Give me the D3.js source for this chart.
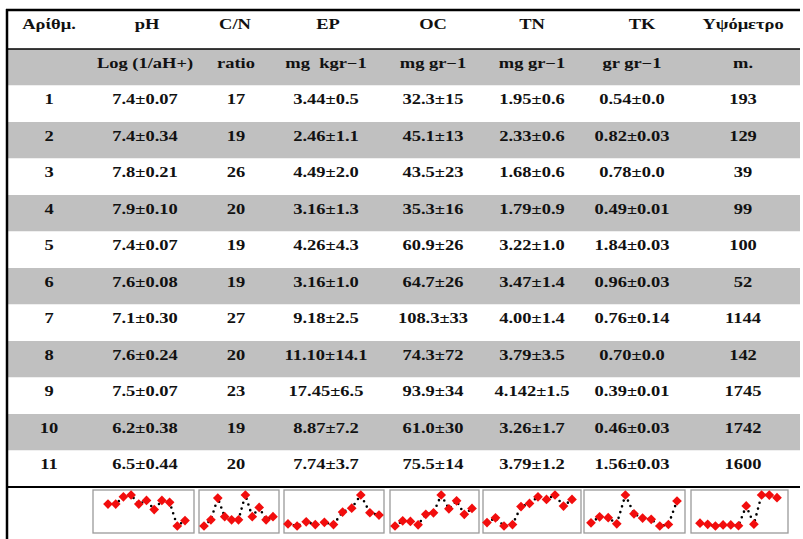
<!DOCTYPE html>
<html>
<head>
<meta charset="utf-8">
<script src="https://cdn.jsdelivr.net/npm/d3@7"></script>
<style>
  html, body { margin: 0; padding: 0; background: #fff; }
  svg text { font-family: "Liberation Serif", "Times New Roman", serif; font-weight: bold; font-size: 14px; fill: #111; white-space: pre; }
</style>
</head>
<body>
<svg id="chart" width="803" height="539"></svg>
<script>
// Soil properties per sampling site (mean ± sd) and altitude
const headers = ["Αρίθμ.", "pH", "C/N", "EP", "OC", "TN", "TK", "Υψόμετρο"];
const units = ["", "Log (1/aH+)", "ratio", "mg  kgr−1", "mg gr−1", "mg gr−1", "gr gr−1", "m."];
const sites = ["1", "2", "3", "4", "5", "6", "7", "8", "9", "10", "11"];

const phMean = ["7.4", "7.4", "7.8", "7.9", "7.4", "7.6", "7.1", "7.6", "7.5", "6.2", "6.5"];
const phSd   = ["0.07", "0.34", "0.21", "0.10", "0.07", "0.08", "0.30", "0.24", "0.07", "0.38", "0.44"];
const cnRatio = ["17", "19", "26", "20", "19", "19", "27", "20", "23", "19", "20"];
const epMean = ["3.44", "2.46", "4.49", "3.16", "4.26", "3.16", "9.18", "11.10", "17.45", "8.87", "7.74"];
const epSd   = ["0.5", "1.1", "2.0", "1.3", "4.3", "1.0", "2.5", "14.1", "6.5", "7.2", "3.7"];
const ocMean = ["32.3", "45.1", "43.5", "35.3", "60.9", "64.7", "108.3", "74.3", "93.9", "61.0", "75.5"];
const ocSd   = ["15", "13", "23", "16", "26", "26", "33", "72", "34", "30", "14"];
const tnMean = ["1.95", "2.33", "1.68", "1.79", "3.22", "3.47", "4.00", "3.79", "4.142", "3.26", "3.79"];
const tnSd   = ["0.6", "0.6", "0.6", "0.9", "1.0", "1.4", "1.4", "3.5", "1.5", "1.7", "1.2"];
const tkMean = ["0.54", "0.82", "0.78", "0.49", "1.84", "0.96", "0.76", "0.70", "0.39", "0.46", "1.56"];
const tkSd   = ["0.0", "0.03", "0.0", "0.01", "0.03", "0.03", "0.14", "0.0", "0.01", "0.03", "0.03"];
const altitude = ["193", "129", "39", "99", "100", "52", "1144", "142", "1745", "1742", "1600"];

// Table columns: cell text and the numeric series shown in the sparkline row
const pm = (m, s) => m.map((v, i) => v + "±" + s[i]);
const columns = [
  { cells: sites },
  { cells: pm(phMean, phSd), series: phMean },
  { cells: cnRatio, series: cnRatio },
  { cells: pm(epMean, epSd), series: epMean },
  { cells: pm(ocMean, ocSd), series: ocMean },
  { cells: pm(tnMean, tnSd), series: tnMean },
  { cells: pm(tkMean, tkSd), series: tkMean },
  { cells: altitude, series: altitude }
];

// Layout
const colX = [49, 145, 236, 326, 433, 532, 632, 743];
const headX = [49, 147, 235, 328, 433, 532, 642, 743];
const left = 8, right = 800;
const headTop = 10, bodyTop = 49, rowH = 36.5;
const nBody = sites.length + 1;           // units row + site rows
const bodyBottom = bodyTop + nBody * rowH;
const textDy = 18.5, sx = 1.32;
// sparkline boxes [x0, x1] and inner padding [left, right]
const boxes = [
  null,
  [93, 194, 15, 9], [199, 279, 5, 6], [284, 384, 4, 5], [390, 479, 5, 7],
  [483, 581, 4, 9], [584, 685, 7, 8], [691, 788, 9, 11]
];
const boxTop = 490, boxBottom = 533;

const svg = d3.select("#chart");

// striped row backgrounds
svg.append("g").selectAll("rect")
  .data(d3.range(nBody))
  .join("rect")
  .attr("x", left).attr("width", right - left)
  .attr("y", i => bodyTop + i * rowH).attr("height", rowH)
  .attr("fill", i => i % 2 === 0 ? "#c0c0c0" : "#fff");

// rules
svg.append("line").attr("x1", 6).attr("x2", right).attr("y1", headTop).attr("y2", headTop)
  .attr("stroke", "#000").attr("stroke-width", 2.5);
svg.append("line").attr("x1", left).attr("x2", right).attr("y1", bodyTop).attr("y2", bodyTop)
  .attr("stroke", "#000").attr("stroke-width", 1.3);
svg.append("line").attr("x1", left).attr("x2", right).attr("y1", bodyBottom).attr("y2", bodyBottom)
  .attr("stroke", "#000").attr("stroke-width", 2);
svg.append("line").attr("x1", 7).attr("x2", 7).attr("y1", headTop - 1).attr("y2", 539)
  .attr("stroke", "#000").attr("stroke-width", 2.5);

function cellText(g, x, y, s) {
  g.append("text")
    .attr("transform", `translate(${x},${y}) scale(${sx},1)`)
    .attr("text-anchor", "middle")
    .text(s);
}

const tg = svg.append("g");
headers.forEach((h, c) => cellText(tg, headX[c], headTop + textDy, h));
units.forEach((u, c) => { if (u) cellText(tg, colX[c], bodyTop + textDy, u); });
columns.forEach((col, c) => {
  col.cells.forEach((s, r) => cellText(tg, colX[c], bodyTop + (r + 1) * rowH + textDy, s));
});

// sparklines
const diamond = d3.symbol().type(d3.symbolDiamond2).size(60);
columns.forEach((col, c) => {
  if (!col.series) return;
  const [x0, x1, pl, pr] = boxes[c];
  const vals = col.series.map(Number);
  const x = d3.scaleLinear().domain([0, vals.length - 1]).range([x0 + pl, x1 - pr]);
  const y = d3.scaleLinear().domain(d3.extent(vals)).range([boxBottom - 7, boxTop + 5]);
  const g = svg.append("g");
  g.append("rect")
    .attr("x", x0).attr("y", boxTop).attr("width", x1 - x0).attr("height", boxBottom - boxTop)
    .attr("fill", "#fff").attr("stroke", "#9a9a9a").attr("stroke-width", 1.3);
  g.append("path")
    .attr("d", d3.line().x((d, i) => x(i)).y(d => y(d))(vals))
    .attr("fill", "none").attr("stroke", "#000").attr("stroke-width", 2.6)
    .attr("stroke-linecap", "round").attr("stroke-dasharray", "0 6");
  g.selectAll("path.pt")
    .data(vals)
    .join("path")
    .attr("class", "pt")
    .attr("d", diamond)
    .attr("transform", (d, i) => `translate(${x(i)},${y(d)}) rotate(0)`)
    .attr("fill", "#f20d0d");
});
</script>
</body>
</html>
